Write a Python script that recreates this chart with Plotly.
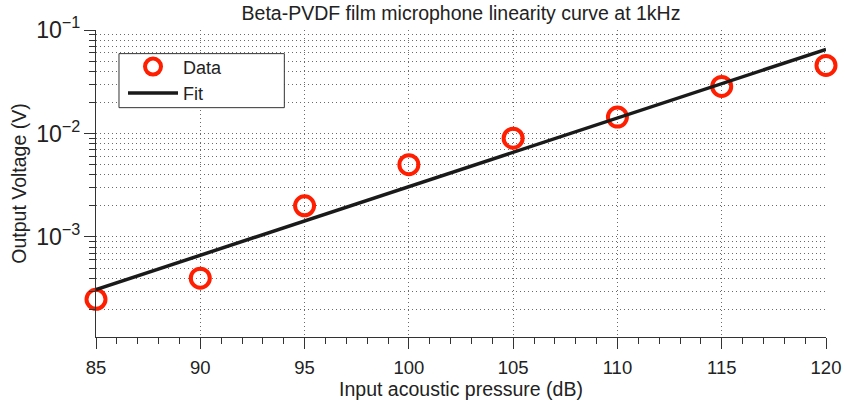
import math
import plotly.graph_objects as go

# Measured microphone response
pressure_db = [85, 90, 95, 100, 105, 110, 115, 120]
output_v = [2.5e-4, 4.0e-4, 2.0e-3, 5.0e-3, 9.0e-3, 1.44e-2, 2.85e-2, 4.55e-2]

# Log-linear fit, evaluated at the ends of the pressure range
fit_db = [85, 120]
fit_v = [3.1e-4, 6.5e-2]

x_ticks = [85, 90, 95, 100, 105, 110, 115, 120]

FONT = "Liberation Sans, Arial, Helvetica, sans-serif"
INK = "#222222"
AXIS = "#333333"
GRID = "#6a6a6a"
DOTS = "1px,3px"

fig = go.Figure()
fig.add_trace(go.Scatter(
    x=pressure_db, y=output_v, mode="markers", name="Data",
    cliponaxis=False,
    marker=dict(symbol="circle-open", size=19, color="#ff1e00",
                line=dict(width=4, color="#ff1e00")),
))
fig.add_trace(go.Scatter(
    x=fit_db, y=fit_v, mode="lines", name="Fit",
    line=dict(color="#1a1a1a", width=3.5),
))

fig.update_layout(
    width=845, height=400,
    margin=dict(l=96, r=19, t=30, b=63),
    paper_bgcolor="white", plot_bgcolor="white",
    font=dict(family=FONT, size=19, color=INK),
    title=dict(text="Beta-PVDF film microphone linearity curve at 1kHz",
               x=(96 + 826) / 2 / 845, xanchor="center",
               y=1 - 13 / 400, yanchor="middle", yref="container",
               font=dict(size=19.5, color=INK)),
    showlegend=True,
    legend=dict(x=0.037, y=0.94, xanchor="left", yanchor="top",
                bgcolor="rgba(0,0,0,0)", borderwidth=0,
                font=dict(size=18, color=INK), itemwidth=50),
    shapes=[dict(type="rect", xref="paper", yref="paper",
                 x0=0.0315, x1=0.258, y0=0.747, y1=0.923,
                 fillcolor="white", line=dict(color=AXIS, width=1),
                 layer="above")],
)

fig.update_xaxes(
    range=[85, 120], tickvals=x_ticks, automargin=False,
    showline=True, linecolor=AXIS, linewidth=1, mirror=False,
    ticks="outside", ticklen=11, tickcolor=AXIS, tickwidth=1,
    ticklabelstandoff=3,
    showgrid=True, gridcolor=GRID, griddash=DOTS, gridwidth=1,
    zeroline=False,
    tickfont=dict(size=18.5, color=INK),
    title=dict(text="Input acoustic pressure (dB)", font=dict(size=19.5, color=INK),
               standoff=0),
    minor=dict(dtick=1, ticks="outside", ticklen=6, tickcolor=AXIS,
               showgrid=False),
)
fig.update_yaxes(
    type="log", range=[math.log10(1.08e-4), -1], dtick=1,
    exponentformat="power", automargin=False,
    showline=True, linecolor=AXIS, linewidth=1, mirror=False,
    ticks="outside", ticklen=11, tickcolor=AXIS, tickwidth=1,
    showgrid=True, gridcolor=GRID, griddash=DOTS, gridwidth=1,
    zeroline=False,
    tickfont=dict(size=18.5, color=INK),
    title=dict(text="Output Voltage (V)", font=dict(size=19.5, color=INK),
               standoff=4),
    minor=dict(dtick="D1", ticks="outside", ticklen=6, tickcolor=AXIS,
               showgrid=True, gridcolor=GRID, griddash=DOTS, gridwidth=1),
)

fig.write_html("out.html")
